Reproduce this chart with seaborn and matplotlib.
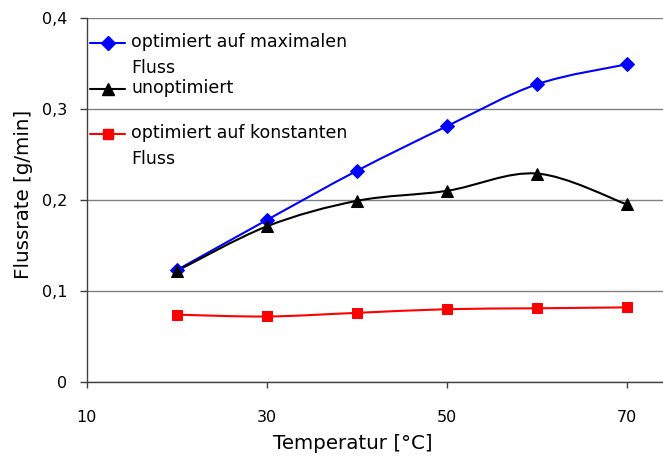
import numpy as np
import pandas as pd
import seaborn as sns
import matplotlib.pyplot as plt
from matplotlib.path import Path
from matplotlib.patches import PathPatch
from matplotlib.lines import Line2D
from matplotlib.legend_handler import HandlerLine2D

# Daten
temperatur = [20, 30, 40, 50, 60, 70]
fluss_max = [0.123, 0.178, 0.232, 0.281, 0.327, 0.349]
fluss_unopt = [0.122, 0.171, 0.199, 0.210, 0.229, 0.195]
fluss_konst = [0.074, 0.072, 0.076, 0.080, 0.081, 0.082]

serien = ["optimiert auf maximalen\nFluss", "unoptimiert\n ", "optimiert auf konstanten\nFluss"]
farben = ["#0000ff", "#000000", "#ff0000"]
marker = ["D", "^", "s"]
marker_size = [7, 8, 7.5]

x_ticks = [10, 30, 50, 70]
y_ticks = [0, 0.1, 0.2, 0.3, 0.4]
y_tick_labels = ["0", "0,1", "0,2", "0,3", "0,4"]

df = pd.DataFrame({
    "Temperatur": temperatur * 3,
    "Fluss": fluss_max + fluss_unopt + fluss_konst,
    "Serie": [serien[0]] * 6 + [serien[1]] * 6 + [serien[2]] * 6,
})


def glatte_kurve(ax, xs, ys, farbe):
    """Excel-artige geglaettete Linie (Bezier durch die Punkte)."""
    pts = np.column_stack([xs, ys]).astype(float)
    n = len(pts)
    verts = [pts[0]]
    codes = [Path.MOVETO]
    for i in range(n - 1):
        p0 = pts[max(i - 1, 0)]
        p1 = pts[i]
        p2 = pts[i + 1]
        p3 = pts[min(i + 2, n - 1)]
        c1 = p1 + (p2 - p0) / 6
        c2 = p2 - (p3 - p1) / 6
        verts += [c1, c2, p2]
        codes += [Path.CURVE4] * 3
    ax.add_patch(PathPatch(Path(verts, codes), fill=False, edgecolor=farbe, lw=1.5, zorder=3))


class HandlerOben(HandlerLine2D):
    """Legendensymbol auf Hoehe der ersten Textzeile."""
    def __init__(self, shift, **kw):
        super().__init__(**kw)
        self.shift = shift

    def create_artists(self, legend, orig_handle, xdescent, ydescent, width, height, fontsize, trans):
        artists = super().create_artists(legend, orig_handle, xdescent, ydescent, width, height, fontsize, trans)
        for a in artists:
            a.set_ydata(np.asarray(a.get_ydata(), dtype=float) + self.shift)
        return artists


sns.set_style("white")
plt.rcParams["font.family"] = ["DejaVu Sans"]
plt.rcParams["text.color"] = "black"
plt.rcParams["axes.labelcolor"] = "black"

fig = plt.figure(figsize=(6.63, 4.57), dpi=100)
ax = fig.add_axes([0.131, 0.164, 0.869, 0.797])

for serie, farbe, m, ms in zip(serien, farben, marker, marker_size):
    teil = df[df["Serie"] == serie]
    sns.lineplot(data=teil, x="Temperatur", y="Fluss", ax=ax, color=farbe, marker=m,
                 markersize=ms, markeredgecolor=farbe, linewidth=0, zorder=4)
    glatte_kurve(ax, teil["Temperatur"], teil["Fluss"], farbe)

ax.set_xlim(10, 74)
ax.set_ylim(0, 0.4)
ax.set_xticks(x_ticks)
ax.set_xticklabels([str(t) for t in x_ticks])
ax.set_yticks(y_ticks)
ax.set_yticklabels(y_tick_labels)

ax.grid(axis="y", color="#808080", linewidth=1)
ax.set_axisbelow(True)
for s in ["top", "right"]:
    ax.spines[s].set_visible(False)
for s in ["left", "bottom"]:
    ax.spines[s].set_color("#404040")
    ax.spines[s].set_linewidth(1)

ax.tick_params(axis="x", direction="out", length=4, width=1, color="#404040", labelcolor="black",
               pad=16, labelsize=11.5, bottom=True)
ax.tick_params(axis="y", direction="out", length=5, width=1, color="#404040", labelcolor="black",
               pad=9, labelsize=11.5, left=True)

ax.set_xlabel("Temperatur [°C]", fontsize=14.3)
ax.set_ylabel("Flussrate [g/min]", fontsize=14.3)
ax.xaxis.set_label_coords(0.462, -0.143)
ax.yaxis.set_label_coords(-0.093, 0.514)

handles = [Line2D([], [], color=f, marker=m, markersize=ms, lw=1.5) for f, m, ms in zip(farben, marker, marker_size)]
leg = ax.legend(handles, serien, loc="upper left", bbox_to_anchor=(-0.006, 0.977), frameon=False,
                fontsize=12.5, handlelength=2.0, handletextpad=0.35, labelspacing=0.1, borderaxespad=0,
                handler_map={Line2D: HandlerOben(9.2)})
for t in leg.get_texts():
    t.set_linespacing(1.55)

fig.savefig("out.png", dpi=100)
